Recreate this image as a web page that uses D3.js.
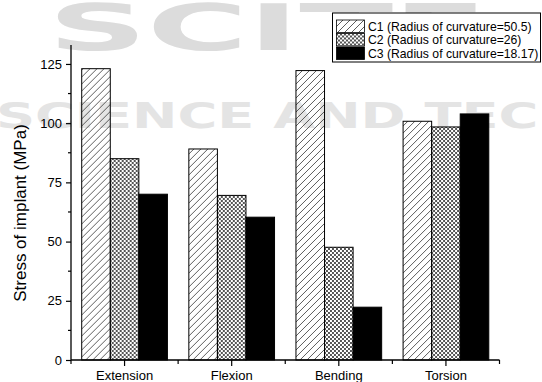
<!DOCTYPE html>
<html>
<head>
<meta charset="utf-8">
<script src="https://cdn.jsdelivr.net/npm/d3@7"></script>
<style>
  html, body { margin: 0; padding: 0; background: #fff; }
  svg { display: block; font-family: "Liberation Sans", Arial, sans-serif; }
</style>
</head>
<body>
<div id="chart"></div>
<script>
// data
const categories = ['Extension', 'Flexion', 'Bending', 'Torsion'];
const seriesNames = ['C1 (Radius of curvature=50.5)', 'C2 (Radius of curvature=26)', 'C3 (Radius of curvature=18.17)'];
const c1Values = [123.0, 89.1, 122.2, 100.8];
const c2Values = [85.0, 69.5, 47.6, 98.4];
const c3Values = [70.0, 60.3, 22.3, 103.9];
const yTicks = [0, 25, 50, 75, 100, 125];

const width = 542, height = 382;
const series = [c1Values, c2Values, c3Values];
const fills = ['url(#hatch)', 'url(#checker)', '#000'];

const svg = d3.select('#chart').append('svg')
  .attr('width', width)
  .attr('height', height);

svg.append('rect').attr('width', width).attr('height', height).attr('fill', '#fff');

// publisher watermark sits behind the figure
const wm = svg.append('g')
  .attr('fill', '#dcdcdc')
  .attr('font-family', '"DejaVu Sans", sans-serif')
  .attr('font-weight', 'bold');
wm.append('text')
  .attr('transform', 'translate(48,50) scale(2.15,1)')
  .attr('font-size', 64)
  .text('SCITE');
wm.append('text')
  .attr('transform', 'translate(-4,128) scale(1.55,1)')
  .attr('font-size', 35)
  .attr('fill', '#e4e4e4')
  .text('SCIENCE AND TECHNOLOGY');

// patterns (transparent background like the original export)
const defs = svg.append('defs');
const hatch = defs.append('pattern')
  .attr('id', 'hatch')
  .attr('patternUnits', 'userSpaceOnUse')
  .attr('width', 7).attr('height', 7);
hatch.append('path')
  .attr('d', 'M-1,8 L8,-1 M-4,4 L4,-4 M3,11 L11,3')
  .attr('stroke', '#333').attr('stroke-width', 0.8);

const checker = defs.append('pattern')
  .attr('id', 'checker')
  .attr('patternUnits', 'userSpaceOnUse')
  .attr('width', 4).attr('height', 4);
checker.append('rect').attr('width', 2).attr('height', 2).attr('fill', '#555');
checker.append('rect').attr('x', 2).attr('y', 2).attr('width', 2).attr('height', 2).attr('fill', '#555');

// scales
const x = d3.scaleBand()
  .domain(categories)
  .range([71, 499.5])
  .paddingInner(0.2)
  .paddingOuter(0.1);

const xs = d3.scaleBand()
  .domain(d3.range(series.length))
  .range([0, x.bandwidth()]);

const y = d3.scaleLinear()
  .domain([0, 133])
  .range([360, 45]);

// bars
const groups = svg.append('g')
  .selectAll('g')
  .data(categories)
  .join('g')
  .attr('transform', d => `translate(${x(d)},0)`);

groups.selectAll('rect')
  .data((d, i) => series.map((s, j) => ({ j, v: s[i] })))
  .join('rect')
  .attr('x', d => xs(d.j))
  .attr('y', d => y(d.v))
  .attr('width', xs.bandwidth())
  .attr('height', d => y(0) - y(d.v))
  .attr('fill', d => fills[d.j])
  .attr('stroke', '#000')
  .attr('stroke-width', 1);

// y axis
const yAxis = svg.append('g').attr('transform', 'translate(71,0)');
yAxis.call(d3.axisLeft(y).tickValues(yTicks).tickSize(5).tickPadding(4))
  .call(g => g.select('.domain').remove());
yAxis.selectAll('.tick line').attr('stroke', '#000').attr('stroke-width', 1.2);
yAxis.selectAll('.tick text')
  .attr('font-size', 13)
  .attr('font-family', '"Liberation Sans", Arial, sans-serif')
  .attr('fill', '#000');
yAxis.selectAll('.minor')
  .data(d3.range(12.5, 133, 25))
  .join('line')
  .attr('class', 'minor')
  .attr('x1', -3).attr('x2', 0)
  .attr('y1', d => y(d)).attr('y2', d => y(d))
  .attr('stroke', '#000').attr('stroke-width', 1.2);
yAxis.append('line')
  .attr('x1', 0).attr('x2', 0)
  .attr('y1', y(133)).attr('y2', y(0))
  .attr('stroke', '#000').attr('stroke-width', 1.3);

// x axis
const xAxis = svg.append('g').attr('transform', `translate(0,${y(0)})`);
xAxis.append('line')
  .attr('x1', x.range()[0]).attr('x2', x.range()[1])
  .attr('stroke', '#000').attr('stroke-width', 1.3);
xAxis.selectAll('.major')
  .data(categories)
  .join('line')
  .attr('class', 'major')
  .attr('x1', d => x(d) + x.bandwidth() / 2)
  .attr('x2', d => x(d) + x.bandwidth() / 2)
  .attr('y1', 0).attr('y2', 6)
  .attr('stroke', '#000').attr('stroke-width', 1.2);
const step = x.step();
xAxis.selectAll('.minor')
  .data(d3.range(categories.length + 1))
  .join('line')
  .attr('class', 'minor')
  .attr('x1', i => x.range()[0] + i * step)
  .attr('x2', i => x.range()[0] + i * step)
  .attr('y1', 0).attr('y2', 4)
  .attr('stroke', '#000').attr('stroke-width', 1.2);
xAxis.selectAll('text')
  .data(categories)
  .join('text')
  .attr('x', d => x(d) + x.bandwidth() / 2)
  .attr('y', 19.5)
  .attr('text-anchor', 'middle')
  .attr('font-size', 13)
  .attr('fill', '#000')
  .text(d => d);

// y title
svg.append('text')
  .attr('transform', 'translate(26,213) rotate(-90)')
  .attr('text-anchor', 'middle')
  .attr('font-size', 17)
  .attr('fill', '#000')
  .text('Stress of implant (MPa)');

// legend
const legend = svg.append('g');
legend.append('rect')
  .attr('x', 332.5).attr('y', 13)
  .attr('width', 208).attr('height', 49)
  .attr('fill', '#fff')
  .attr('stroke', '#000').attr('stroke-width', 1);
const rows = legend.selectAll('g.row')
  .data(seriesNames)
  .join('g')
  .attr('class', 'row')
  .attr('transform', (d, i) => `translate(0,${20 + i * 13.5})`);
rows.append('rect')
  .attr('x', 336.5).attr('y', 0)
  .attr('width', 28).attr('height', 12.5)
  .attr('fill', (d, i) => fills[i])
  .attr('stroke', '#000').attr('stroke-width', 0.8);
rows.append('text')
  .attr('x', 368).attr('y', 10.5)
  .attr('font-size', 12.2)
  .attr('fill', '#000')
  .text(d => d);
</script>
</body>
</html>
